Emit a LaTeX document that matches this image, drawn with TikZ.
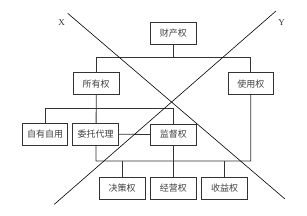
\documentclass[tikz,border=0pt]{standalone}
\usepackage{fontspec}
\setmainfont{Liberation Serif}
\newfontfamily\cjk{Noto Sans CJK SC}
\usetikzlibrary{backgrounds}
\begin{document}
\begin{tikzpicture}[x=1pt,y=-1pt,
  box/.style={draw=black!80,fill=white,line width=0.8pt,minimum width=45.5pt,minimum height=22pt,inner sep=0pt,font=\cjk\fontsize{9}{9}\selectfont,text=black!75},
  conn/.style={draw=black!80,line width=0.8pt},
  diag/.style={draw=black,line width=0.6pt},
  lab/.style={font=\fontsize{9}{9}\selectfont,text=black!80,inner sep=0pt}]
\useasboundingbox (0,0) rectangle (307,216);
% bus coordinates
\coordinate (bus1) at (173.3,57.7);
\coordinate (bus2) at (96,108.3);
\coordinate (bus3) at (96,161);
% boxes
\node[box] (cq) at (173.3,33.3) {财产权};
\node[box] (syq) at (96.2,83.7) {所有权};
\node[box] (syy) at (250.8,83.7) {使用权};
\node[box] (zy) at (45,134.2) {自有自用};
\node[box] (wt) at (95.5,134.2) {委托代理};
\node[box,minimum height=21pt] (jd) at (173.3,134.5) {监督权};
\node[box] (jc) at (122.2,188.2) {决策权};
\node[box] (jy) at (173.3,188.2) {经营权};
\node[box] (sy) at (224.5,188.2) {收益权};
% connectors behind the boxes
\begin{scope}[on background layer]
\draw[conn] (cq.south) -- (bus1);
\draw[conn] (syq.north) |- (bus1) -| (syy.north);
\draw[conn] (zy.north) |- (bus2) -| (jd.north);
\draw[conn] (syq.south) -- (bus3) -| (syy.south);
\draw[conn] (wt.east) -- (jd.west);
\draw[conn] (jd.south) -- (jy.north);
\draw[conn] (jc.north) -- (jc.north |- bus3);
\draw[conn] (sy.north) -- (sy.north |- bus3);
\end{scope}
% diagonals
\coordinate (x1) at (67.7,13.3);
\coordinate (x2) at (285,199);
\coordinate (y1) at (276,11);
\coordinate (y2) at (54.3,204.3);
\draw[diag] (x1) -- (x2);
\draw[diag] (y1) -- (y2);
\node[lab] (lx) at (61.7,22.3) {X};
\node[lab] (ly) at (281.7,22.3) {Y};
\end{tikzpicture}
\end{document}
